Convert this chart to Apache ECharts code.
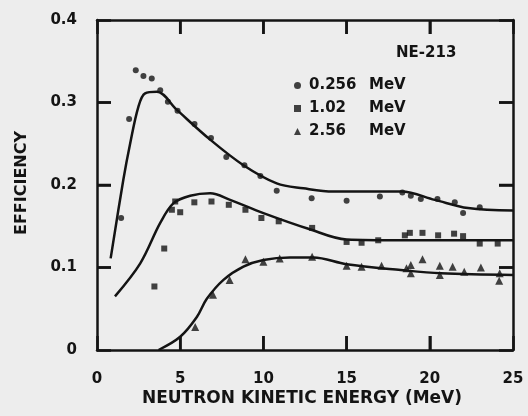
<!DOCTYPE html>
<html>
<head>
<meta charset="utf-8">
<script src="https://cdn.jsdelivr.net/npm/echarts@6/dist/echarts.min.js"></script>
<style>
  html, body { margin: 0; padding: 0; background: #ededed; }
  #chart { width: 528px; height: 416px; }
</style>
</head>
<body>
<div id="chart"></div>
<script>
// NE-213 detector efficiency vs. neutron kinetic energy, three bias thresholds.

const detectorLabel = 'NE-213';
const seriesNames = ['0.256 MeV', '1.02 MeV', '2.56 MeV'];
const legendNumbers = ['0.256', '1.02', '2.56'];
const xTickValues = [0, 5, 10, 15, 20, 25];
const yTickValues = [0, 0.1, 0.2, 0.3, 0.4];
const yTickLabels = ['0', '0.1', '0.2', '0.3', '0.4'];
const xAxisTitle = 'NEUTRON KINETIC ENERGY (MeV)';
const yAxisTitle = 'EFFICIENCY';

// measured points: [energy MeV, efficiency]
const points0256 = [
  [1.45, 0.160], [1.93, 0.280], [2.33, 0.339], [2.79, 0.332], [3.29, 0.329],
  [3.80, 0.315], [4.26, 0.301], [4.84, 0.290], [5.86, 0.274], [6.85, 0.257],
  [7.77, 0.234], [8.86, 0.224], [9.82, 0.211], [10.8, 0.193], [12.9, 0.184],
  [15.0, 0.181], [17.0, 0.186], [18.35, 0.191], [18.86, 0.187], [19.46, 0.183],
  [20.46, 0.183], [21.5, 0.179], [22.0, 0.166], [23.0, 0.173]
];
const points102 = [
  [3.45, 0.077], [4.04, 0.123], [4.50, 0.170], [4.70, 0.180], [5.00, 0.167],
  [5.85, 0.179], [6.88, 0.180], [7.92, 0.176], [8.92, 0.170], [9.88, 0.160],
  [10.92, 0.156], [12.93, 0.148], [15.0, 0.131], [15.9, 0.130], [16.9, 0.133],
  [18.5, 0.139], [18.8, 0.142], [19.56, 0.142], [20.5, 0.139], [21.46, 0.141],
  [22.0, 0.138], [23.0, 0.129], [24.08, 0.129]
];
const points256 = [
  [5.90, 0.028], [6.97, 0.067], [7.97, 0.085], [8.92, 0.110], [10.0, 0.107],
  [10.98, 0.111], [12.93, 0.113], [15.0, 0.102], [15.9, 0.101], [17.1, 0.102],
  [18.6, 0.099], [18.86, 0.103], [18.86, 0.093], [19.56, 0.110], [20.6, 0.102],
  [20.6, 0.091], [21.37, 0.101], [22.07, 0.095], [23.07, 0.100], [24.17, 0.084],
  [24.2, 0.093]
];

// fitted response curves
const curve0256 = [
  [0.82, 0.111], [1.58, 0.206], [1.99, 0.250], [2.49, 0.295], [2.89, 0.311],
  [3.60, 0.313], [4.80, 0.291], [6.80, 0.255], [8.80, 0.224], [10.8, 0.202],
  [12.4, 0.196], [14.2, 0.192], [16.5, 0.192], [18.3, 0.192], [20.3, 0.182],
  [22.3, 0.172], [25.0, 0.169]
];
const curve102 = [
  [1.08, 0.065], [2.60, 0.105], [3.80, 0.154], [4.60, 0.178], [5.60, 0.187],
  [6.80, 0.190], [8.00, 0.182], [10.0, 0.166], [12.7, 0.147], [15.0, 0.134],
  [18.25, 0.133], [25.0, 0.133]
];
const curve256 = [
  [3.70, 0.000], [5.00, 0.016], [6.00, 0.040], [6.60, 0.062], [7.60, 0.085],
  [8.80, 0.101], [10.0, 0.109], [11.6, 0.112], [13.0, 0.112], [15.0, 0.104],
  [18.25, 0.097], [20.66, 0.093], [25.0, 0.091]
];

const INK = '#141414';
const FONT = 'DejaVu Sans';
const TICK_LEN = 14;
const xMin = xTickValues[0], xMax = xTickValues[xTickValues.length - 1];
const yMin = yTickValues[0], yMax = yTickValues[yTickValues.length - 1];

const chart = echarts.init(document.getElementById('chart'), null, { renderer: 'canvas' });

const frameLine = () => ({ show: true, onZero: false, lineStyle: { color: INK, width: 2.5 } });
const innerTicks = () => ({ show: true, inside: true, length: TICK_LEN, lineStyle: { color: INK, width: 2.5 } });

function yLabel(v) {
  const i = yTickValues.findIndex((t) => Math.abs(t - v) < 1e-9);
  return i >= 0 ? yTickLabels[i] : '';
}

function legendText(name) {
  const i = seriesNames.indexOf(name);
  return '{n|' + legendNumbers[i] + '}{u|MeV}';
}

const curveStyle = (data) => ({
  type: 'line', data, smooth: 0.35, showSymbol: false, silent: true,
  lineStyle: { color: INK, width: 2.5 }, z: 3
});
const pointStyle = (name, data, symbol, size) => ({
  type: 'scatter', name, data, symbol, symbolSize: size,
  itemStyle: { color: INK }, z: 4
});

// axis titles
const titleElements = [
  {
    id: 'xTitle', type: 'text', x: 302, y: 399, silent: true,
    style: { text: xAxisTitle, fill: INK, font: 'bold 17px "DejaVu Sans"', textAlign: 'center', textVerticalAlign: 'middle' }
  },
  {
    id: 'yTitle', type: 'text', x: 22, y: 183, rotation: Math.PI / 2, silent: true,
    style: { text: yAxisTitle, fill: INK, font: 'bold 16px "DejaVu Sans"', textAlign: 'center', textVerticalAlign: 'middle' }
  }
];

chart.setOption({
  backgroundColor: '#ededed',
  animation: false,
  title: {
    text: detectorLabel, left: 391, top: 41,
    textStyle: { fontFamily: FONT, fontWeight: 'bold', fontSize: 15, color: INK }
  },
  legend: {
    data: seriesNames, orient: 'vertical', left: 289, top: 73,
    itemWidth: 7, itemHeight: 7, itemGap: 8,
    formatter: legendText,
    textStyle: {
      fontFamily: FONT, fontWeight: 'bold', fontSize: 15, color: INK,
      rich: {
        n: { fontFamily: FONT, fontWeight: 'bold', fontSize: 15, color: INK, width: 60, padding: [0, 0, 0, 3] },
        u: { fontFamily: FONT, fontWeight: 'bold', fontSize: 15, color: INK }
      }
    },
    selectedMode: false
  },
  graphic: titleElements,
  grid: { left: 97, right: 15, top: 20, bottom: 66, containLabel: false },
  xAxis: [
    {
      type: 'value', min: xMin, max: xMax, interval: 5, position: 'bottom',
      axisLine: frameLine(), axisTick: innerTicks(), splitLine: { show: false },
      axisLabel: {
        margin: 22, fontFamily: FONT, fontWeight: 'bold', fontSize: 15, color: INK,
        formatter: (v) => (xTickValues.indexOf(v) >= 0 ? String(v) : '')
      }
    },
    {
      type: 'value', min: xMin, max: xMax, interval: 5, position: 'top',
      axisLine: frameLine(), axisTick: innerTicks(), axisLabel: { show: false }, splitLine: { show: false }
    }
  ],
  yAxis: [
    {
      type: 'value', min: yMin, max: yMax, interval: 0.1, position: 'left',
      axisLine: frameLine(), axisTick: innerTicks(), splitLine: { show: false },
      axisLabel: {
        margin: 20, fontFamily: FONT, fontWeight: 'bold', fontSize: 15, color: INK,
        formatter: yLabel
      }
    },
    {
      type: 'value', min: yMin, max: yMax, interval: 0.1, position: 'right',
      axisLine: frameLine(), axisTick: innerTicks(), axisLabel: { show: false }, splitLine: { show: false }
    }
  ],
  series: [
    curveStyle(curve0256),
    curveStyle(curve102),
    curveStyle(curve256),
    pointStyle(seriesNames[0], points0256, 'circle', 6),
    pointStyle(seriesNames[1], points102, 'rect', 6),
    pointStyle(seriesNames[2], points256, 'triangle', 8)
  ]
});

// inward frame ticks, placed through the grid's own coordinate conversion
const toPx = (pt) => chart.convertToPixel({ gridIndex: 0 }, pt);
const tickShape = (x1, y1, x2, y2, id) => ({
  id, type: 'line', silent: true, z: 50,
  shape: { x1, y1, x2, y2 }, style: { stroke: INK, lineWidth: 2.5 }
});
const tickElements = [];
xTickValues.slice(1, -1).forEach((v, i) => {
  const b = toPx([v, yMin]);
  const t = toPx([v, yMax]);
  tickElements.push(tickShape(b[0], b[1], b[0], b[1] - TICK_LEN, 'xb' + i));
  tickElements.push(tickShape(t[0], t[1], t[0], t[1] + TICK_LEN, 'xt' + i));
});
yTickValues.slice(1, -1).forEach((v, i) => {
  const l = toPx([xMin, v]);
  const r = toPx([xMax, v]);
  tickElements.push(tickShape(l[0], l[1], l[0] + TICK_LEN, l[1], 'yl' + i));
  tickElements.push(tickShape(r[0], r[1], r[0] - TICK_LEN, r[1], 'yr' + i));
});
chart.setOption({ graphic: titleElements.concat(tickElements) });
</script>
</body>
</html>
